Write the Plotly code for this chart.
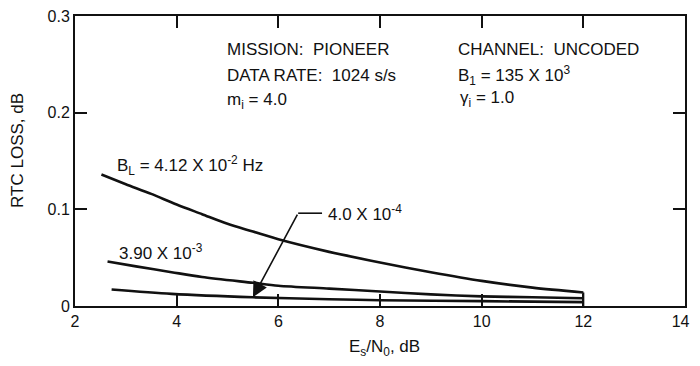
import plotly.graph_objects as go

# E_s/N_0 (dB) and RTC loss (dB) for three loop bandwidths
es_n0_bl1 = [2.52, 3.0, 3.5, 4.0, 4.5, 5.0, 5.5, 6.0, 7.0, 8.0, 9.0, 10.0, 11.0, 12.0]
loss_bl1 = [0.136, 0.126, 0.116, 0.105, 0.095, 0.085, 0.077, 0.069, 0.056, 0.045, 0.035, 0.026, 0.019, 0.014]

es_n0_bl2 = [2.64, 3.2, 3.9, 4.5, 5.5, 6.0, 7.0, 8.0, 9.0, 10.0, 11.0, 12.0]
loss_bl2 = [0.046, 0.041, 0.035, 0.030, 0.024, 0.021, 0.018, 0.015, 0.012, 0.010, 0.009, 0.008]

es_n0_bl3 = [2.72, 3.9, 5.5, 7.0, 8.0, 10.0, 12.0]
loss_bl3 = [0.017, 0.0125, 0.009, 0.007, 0.006, 0.005, 0.004]

x_ticks = [2, 4, 6, 8, 10, 12, 14]
x_tick_text = ["2", "4", "6", "8", "10", "12", "14&nbsp;&nbsp;"]
y_ticks = [0, 0.1, 0.2, 0.3]
y_tick_text = ["0", "0.1", "0.2", "0.3"]

FONT = "Liberation Sans, Arial, Helvetica, sans-serif"
INK = "#111111"

fig = go.Figure()
for xs, ys in [(es_n0_bl1, loss_bl1), (es_n0_bl2, loss_bl2), (es_n0_bl3, loss_bl3)]:
    fig.add_trace(go.Scatter(x=xs, y=ys, mode="lines",
                             line=dict(color=INK, width=2.6, shape="spline", smoothing=0.8),
                             showlegend=False, hoverinfo="skip"))

# closing bar at the end of the curves
fig.add_trace(go.Scatter(x=[es_n0_bl1[-1], es_n0_bl1[-1]], y=[0, loss_bl1[-1]], mode="lines",
                         line=dict(color=INK, width=2), showlegend=False, hoverinfo="skip"))

axis_common = dict(showline=True, linecolor=INK, linewidth=2, mirror="ticks",
                   ticks="inside", ticklen=12, tickwidth=1.6, tickcolor=INK,
                   showgrid=False, zeroline=False, automargin=False,
                   ticklabeloverflow="allow",
                   tickfont=dict(family=FONT, size=16, color=INK))

# page body has an 8px default margin, so the figure is sized to fit inside the window
fig.update_layout(
    width=692, height=358, autosize=False,
    margin=dict(l=67, r=15, t=8, b=60, autoexpand=False),
    paper_bgcolor="white", plot_bgcolor="white",
    font=dict(family=FONT, size=17, color=INK),
    xaxis=dict(range=[2, 14], tickvals=x_ticks, ticktext=x_tick_text, **axis_common),
    yaxis=dict(range=[0, 0.3], tickvals=y_ticks, ticktext=y_tick_text, **axis_common),
)

ann = []
def text(x, y, s, xref="x", yref="y", **kw):
    d = dict(x=x, y=y, xref=xref, yref=yref, text=s, showarrow=False,
             xanchor="left", yanchor="middle",
             font=dict(family=FONT, size=17, color=INK))
    d.update(kw)
    ann.append(d)

text(4.96, 0.265, "MISSION:&nbsp; PIONEER")
text(4.96, 0.238, "DATA RATE:&nbsp; 1024 s/s")
text(4.96, 0.212, "m<sub>i</sub> = 4.0")
text(9.49, 0.265, "CHANNEL:&nbsp; UNCODED")
text(9.49, 0.238, "B<sub>1</sub> = 135 X 10<sup>3</sup>")
text(9.53, 0.214, "γ<sub>i</sub> = 1.0")
text(2.78, 0.145, "B<sub>L</sub> = 4.12 X 10<sup>-2</sup> Hz")
text(2.83, 0.056, "3.90 X 10<sup>-3</sup>")
text(6.93, 0.096, "4.0 X 10<sup>-4</sup>")

# axis titles
text(-0.0934, 0.535, "RTC LOSS, dB", xref="paper", yref="paper",
     xanchor="center", textangle=-90)
text(0.5066, -0.1433, "E<sub>s</sub>/N<sub>0</sub>, dB", xref="paper", yref="paper",
     xanchor="center")

# leader arrow for 4.0e-4 curve
ann.append(dict(x=5.5, y=0.009, ax=6.39, ay=0.096, xref="x", yref="y", axref="x", ayref="y",
                text="", showarrow=True, arrowhead=2, arrowsize=1.9, arrowwidth=1.6,
                arrowcolor=INK, standoff=0))
fig.update_layout(annotations=ann)
fig.add_shape(type="line", x0=6.39, y0=0.096, x1=6.86, y1=0.096, xref="x", yref="y",
              line=dict(color=INK, width=1.6))

fig.write_html("out.html")
